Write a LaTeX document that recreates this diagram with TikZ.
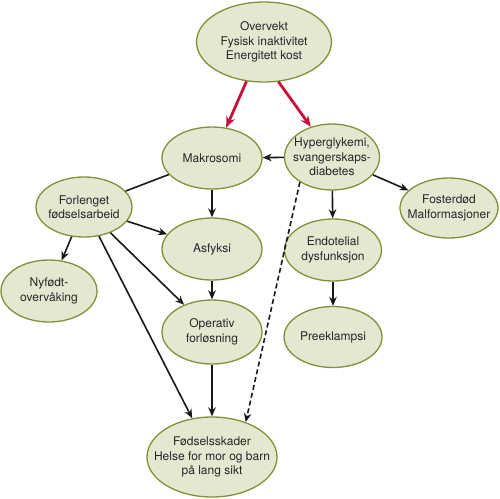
\documentclass[tikz,border=0pt]{standalone}
\usepackage{fontspec}
\setmainfont{TeX Gyre Heros}
\usetikzlibrary{shapes.geometric,arrows.meta}
\definecolor{blobfill}{RGB}{229,231,209}
\definecolor{blobedge}{RGB}{128,145,58}
\definecolor{redarrow}{RGB}{200,16,60}
\begin{document}
\begin{tikzpicture}[x=1pt,y=-1pt,
  blob/.style={ellipse,draw=blobedge,fill=blobfill,line width=1.3pt,inner sep=0pt},
  txt/.style={align=center,font=\fontsize{12}{14.5}\selectfont,text=black!85,inner sep=0pt},
  conn/.style={line width=1.6pt,draw=black!90,-{Stealth[length=9pt,width=7.5pt]}},
  plainline/.style={line width=1.6pt,draw=black!90},
  redconn/.style={line width=2.8pt,draw=redarrow,-{Stealth[length=11pt,width=9pt]}}]
\useasboundingbox (0,0) rectangle (500,498);

\node[blob,minimum width=135pt,minimum height=80pt] (top) at (264,42) {};
\node[txt] (topt) at (top) {Overvekt\\Fysisk inaktivitet\\Energitett kost};

\node[blob,minimum width=100pt,minimum height=62pt] (makro) at (212,158) {};
\node[txt] (makrot) at (makro) {Makrosomi};

\node[blob,minimum width=95pt,minimum height=66pt] (hyp) at (332,157) {};
\node[txt] (hypt) at (hyp) {Hyperglykemi,\\svangerskaps-\\diabetes};

\node[blob,minimum width=96pt,minimum height=60pt] (forl) at (84,207) {};
\node[txt] (forlt) at (forl) {Forlenget\\fødselsarbeid};

\node[blob,minimum width=98pt,minimum height=60pt] (fost) at (449,208) {};
\node[txt] (fostt) at (fost) {Fosterdød\\Malformasjoner};

\node[blob,minimum width=100pt,minimum height=62pt] (asf) at (212,249) {};
\node[txt] (asft) at (asf) {Asfyksi};

\node[blob,minimum width=97pt,minimum height=62pt] (endo) at (333,250) {};
\node[txt] (endot) at (endo) {Endotelial\\dysfunksjon};

\node[blob,minimum width=96pt,minimum height=62pt] (nyf) at (49,291) {};
\node[txt] (nyft) at (nyf) {Nyfødt-\\overvåking};

\node[blob,minimum width=100pt,minimum height=64pt] (oper) at (212,332) {};
\node[txt] (opert) at (oper) {Operativ\\forløsning};

\node[blob,minimum width=98pt,minimum height=61pt] (pree) at (333,337) {};
\node[txt] (preet) at (pree) {Preeklampsi};

\node[blob,minimum width=130pt,minimum height=80pt] (fod) at (212,457) {};
\node[txt] (fodt) at (fod) {Fødselsskader\\Helse for mor og barn\\på lang sikt};

\draw[redconn] (top.246) -- (makro.65);
\draw[redconn] (top.290) -- (hyp.125);
\draw[conn] (hyp) -- (makro);
\draw[plainline] (forl) -- (makro);
\draw[conn] (makro) -- (asf);
\draw[conn] (forl) -- (asf);
\draw[conn] (forl) -- (nyf);
\draw[conn] (forl) -- (oper);
\draw[conn] (forl) -- (fod);
\draw[conn] (asf) -- (oper);
\draw[conn] (oper) -- (fod);
\draw[conn,dash pattern=on 5pt off 3pt] (hyp.218) -- (fod.46);
\draw[conn] (hyp) -- (fost);
\draw[conn] (hyp) -- (endo);
\draw[conn] (endo) -- (pree);
\end{tikzpicture}
\end{document}
